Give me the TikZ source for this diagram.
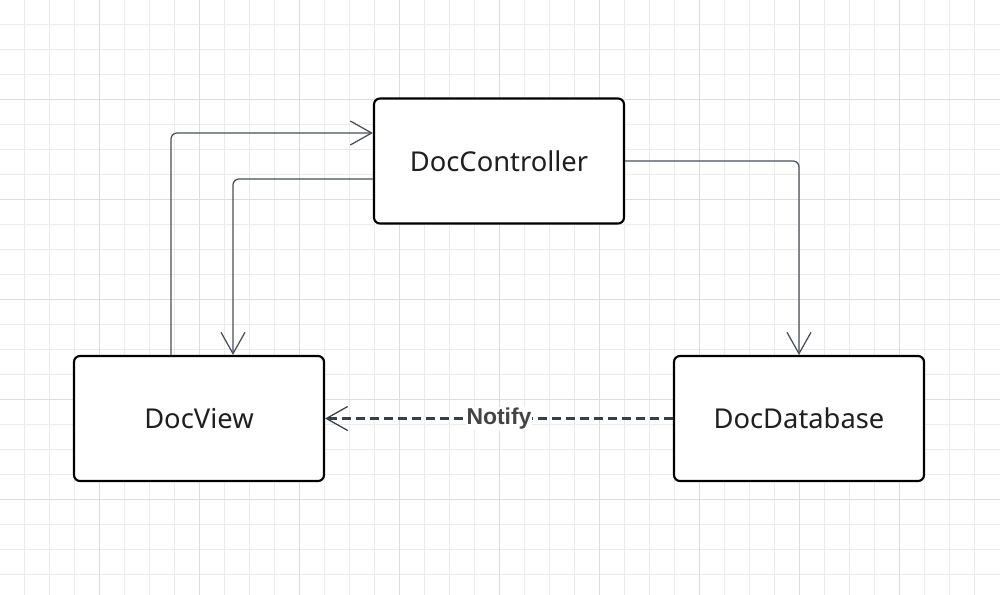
\documentclass[tikz,border=0pt]{standalone}
\usepackage{fontspec}
\setmainfont{Noto Sans}
\newfontfamily\labelfont{Liberation Sans}
\usetikzlibrary{arrows.meta}
\definecolor{gridminor}{HTML}{EBEBEB}
\definecolor{gridmajor}{HTML}{DDDDDD}
\definecolor{edgecol}{HTML}{4B5058}
\definecolor{dashcol}{HTML}{3A3F46}
\definecolor{labelcol}{HTML}{444444}
\begin{document}
\begin{tikzpicture}[x=0.75pt,y=-0.75pt,
  box/.style={draw=black,line width=1.6pt,rounded corners=4.5pt,fill=white,
    minimum width=187.5pt,minimum height=93.75pt,inner sep=0pt,
    font=\fontsize{20.5pt}{24pt}\selectfont,text=black!88},
  edge/.style={draw=edgecol,line width=0.95pt,rounded corners=4.5pt,
    -{Straight Barb[length=16pt,width=18pt,line width=0.95pt]}},
  dashedge/.style={draw=dashcol,line width=1.8pt,dash pattern=on 6.75pt off 3.75pt,
    -{Straight Barb[length=16pt,width=18pt,line width=0.95pt]}},
  notify/.style={font=\labelfont\bfseries\fontsize{17.2pt}{20pt}\selectfont,text=labelcol,
    fill=white,inner sep=0.3pt}
]
\useasboundingbox (0,0) rectangle (1000,595);
\fill[white] (0,0) rectangle (1000,595);
\foreach \i in {1,...,39} {
  \draw[gridminor,line width=0.75pt] (25*\i-0.5,0) -- (25*\i-0.5,595);
}
\foreach \i in {1,...,23} {
  \draw[gridminor,line width=0.75pt] (0,25*\i-0.5) -- (1000,25*\i-0.5);
}
\foreach \i in {1,...,9} {
  \draw[gridmajor,line width=0.75pt] (100*\i-0.5,0) -- (100*\i-0.5,595);
}
\foreach \i in {1,...,5} {
  \draw[gridmajor,line width=0.75pt] (0,100*\i-0.5) -- (1000,100*\i-0.5);
}

\node[box] (ctrl) at (499,161) {DocController};
\node[box] (view) at (199,418.5) {DocView};
\node[box] (db) at (799,418.5) {DocDatabase};

\draw[edge] ([xshift=-21pt]view.north) |- ([yshift=21pt]ctrl.west);
\draw[edge] ([yshift=-13.5pt]ctrl.west) -| ([xshift=25.5pt]view.north);
\draw[edge] (ctrl.east) -| (db.north);
\draw[dashedge] (db.west) -- node[notify] {Notify} (view.east);
\end{tikzpicture}
\end{document}
